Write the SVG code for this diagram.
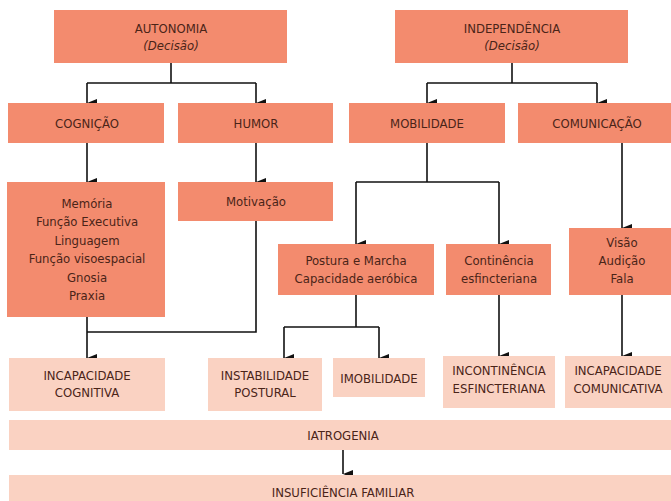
<svg xmlns="http://www.w3.org/2000/svg" width="671" height="501" viewBox="0 0 671 501">
<style>
.d{fill:#F38B6E}
.l{fill:#FAD2C2}
text{font-family:"Liberation Sans Narrow","DejaVu Sans Condensed","Liberation Sans",sans-serif;font-size:13px;fill:#4a2418;text-anchor:middle}
.i{font-style:italic}
.c line,.c polyline{stroke:#111;stroke-width:1.6;fill:none}
</style>
<defs>
<marker id="a" markerWidth="8" markerHeight="10" refX="4" refY="10" orient="auto" markerUnits="userSpaceOnUse" viewBox="0 0 8 10">
<path d="M0,0 L8,0 L4,10 Z" fill="#111"/>
</marker>
</defs>
<rect width="671" height="501" fill="#fff"/>
<g class="c">
<polyline points="171,63 171,83"/>
<polyline points="87,83 256,83"/>
<line x1="87" y1="83" x2="87" y2="103" marker-end="url(#a)"/>
<line x1="256" y1="83" x2="256" y2="103" marker-end="url(#a)"/>
<polyline points="512,63 512,83"/>
<polyline points="427,83 597,83"/>
<line x1="427" y1="83" x2="427" y2="103" marker-end="url(#a)"/>
<line x1="597" y1="83" x2="597" y2="103" marker-end="url(#a)"/>
<line x1="87" y1="143" x2="87" y2="182" marker-end="url(#a)"/>
<line x1="256" y1="143" x2="256" y2="182" marker-end="url(#a)"/>
<polyline points="427,143 427,182"/>
<polyline points="356,182 499,182"/>
<line x1="356" y1="182" x2="356" y2="244" marker-end="url(#a)"/>
<line x1="499" y1="182" x2="499" y2="244" marker-end="url(#a)"/>
<line x1="622" y1="143" x2="622" y2="228" marker-end="url(#a)"/>
<polyline points="256,221 256,332 87,332"/>
<line x1="87" y1="317" x2="87" y2="358" marker-end="url(#a)"/>
<polyline points="356,295 356,327"/>
<polyline points="284,327 379,327"/>
<line x1="284" y1="327" x2="284" y2="358" marker-end="url(#a)"/>
<line x1="379" y1="327" x2="379" y2="358" marker-end="url(#a)"/>
<line x1="499" y1="295" x2="499" y2="356" marker-end="url(#a)"/>
<line x1="622" y1="295" x2="622" y2="356" marker-end="url(#a)"/>
<line x1="343" y1="450" x2="343" y2="474" marker-end="url(#a)"/>
</g>
<g id="autonomia"><rect class="d" x="54" y="10" width="233" height="53"/><text x="171" y="33">AUTONOMIA</text><text class="i" x="171" y="50">(Decisão)</text></g>
<g id="independencia"><rect class="d" x="395" y="10" width="233" height="53"/><text x="512" y="33">INDEPENDÊNCIA</text><text class="i" x="512" y="50">(Decisão)</text></g>
<g id="cognicao"><rect class="d" x="8" y="103" width="156" height="40"/><text x="87" y="128">COGNIÇÃO</text></g>
<g id="humor"><rect class="d" x="178" y="103" width="155" height="40"/><text x="256" y="128">HUMOR</text></g>
<g id="mobilidade"><rect class="d" x="349" y="103" width="156" height="40"/><text x="427" y="128">MOBILIDADE</text></g>
<g id="comunicacao"><rect class="d" x="518" y="103" width="153" height="40"/><text x="597" y="128">COMUNICAÇÃO</text></g>
<g id="funcoes"><rect class="d" x="7" y="182" width="158" height="135"/>
<text x="87" y="208">Memória</text><text x="87" y="226">Função Executiva</text><text x="87" y="245">Linguagem</text><text x="87" y="263">Função visoespacial</text><text x="87" y="282">Gnosia</text><text x="87" y="300">Praxia</text></g>
<g id="motivacao"><rect class="d" x="178" y="182" width="155" height="39"/><text x="256" y="206">Motivação</text></g>
<g id="postura"><rect class="d" x="278" y="244" width="156" height="51"/><text x="356" y="265">Postura e Marcha</text><text x="356" y="283">Capacidade aeróbica</text></g>
<g id="continencia"><rect class="d" x="446" y="244" width="105" height="51"/><text x="499" y="265">Continência</text><text x="499" y="283">esfincteriana</text></g>
<g id="visao"><rect class="d" x="569" y="228" width="102" height="67"/><text x="622" y="247">Visão</text><text x="622" y="265">Audição</text><text x="622" y="283">Fala</text></g>
<g id="inc-cognitiva"><rect class="l" x="9" y="358" width="156" height="53"/><text x="87" y="380">INCAPACIDADE</text><text x="87" y="397">COGNITIVA</text></g>
<g id="instabilidade"><rect class="l" x="208" y="358" width="114" height="53"/><text x="265" y="380">INSTABILIDADE</text><text x="265" y="397">POSTURAL</text></g>
<g id="imobilidade"><rect class="l" x="333" y="358" width="92" height="39"/><text x="379" y="383">IMOBILIDADE</text></g>
<g id="incontinencia"><rect class="l" x="443" y="356" width="112" height="52"/><text x="499" y="375">INCONTINÊNCIA</text><text x="499" y="393">ESFINCTERIANA</text></g>
<g id="inc-comunicativa"><rect class="l" x="565" y="356" width="106" height="52"/><text x="618" y="375">INCAPACIDADE</text><text x="618" y="393">COMUNICATIVA</text></g>
<g id="iatrogenia"><rect class="l" x="9" y="420" width="662" height="30"/><text x="343" y="440">IATROGENIA</text></g>
<g id="insuficiencia"><rect class="l" x="9" y="475" width="662" height="30"/><text x="343" y="497">INSUFICIÊNCIA FAMILIAR</text></g>
</svg>
